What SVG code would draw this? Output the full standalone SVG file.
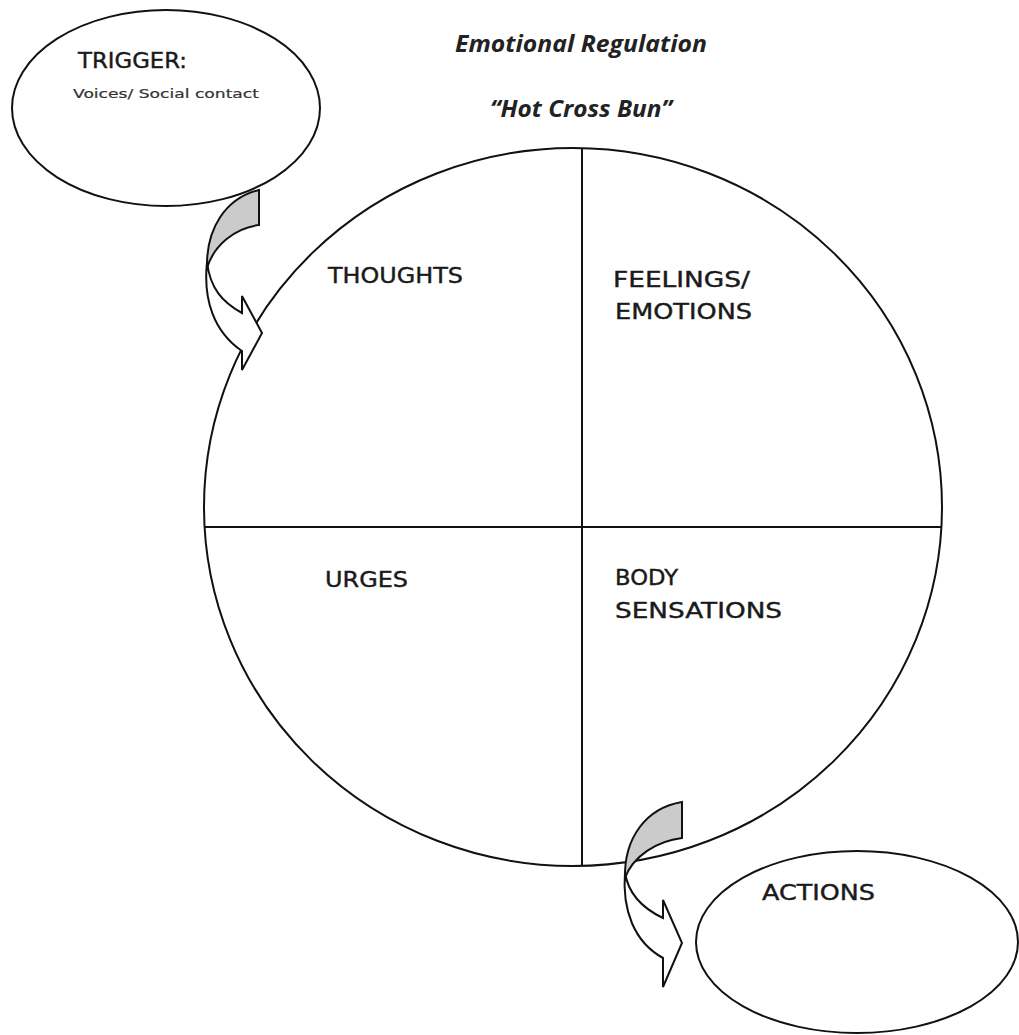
<svg xmlns="http://www.w3.org/2000/svg" width="1019" height="1035" viewBox="0 0 1019 1035">
<style>
.ln{fill:none;stroke:#111;stroke-width:2}
.sh{fill:#fff;stroke:#111;stroke-width:2}
.grey{fill:#cbcbcb;stroke:#111;stroke-width:2;stroke-linejoin:miter}
.wh{fill:#fff;stroke:#111;stroke-width:2;stroke-linejoin:miter}
.lbl{font-family:"DejaVu Sans","Liberation Sans",sans-serif;font-size:21px;fill:#1a1a1a;stroke:#1a1a1a;stroke-width:0.4}
.small{font-family:"DejaVu Sans","Liberation Sans",sans-serif;font-size:13px;fill:#333;stroke:#333;stroke-width:0.2}
.title{font-family:"Open Sans","Liberation Sans",sans-serif;font-size:23px;font-weight:bold;font-style:italic;fill:#222}
</style>
<rect width="1019" height="1035" fill="#fff"/>
<g id="title">
<text class="title" x="455" y="52" textLength="252" lengthAdjust="spacingAndGlyphs">Emotional Regulation</text>
<text class="title" x="490" y="117" textLength="182" lengthAdjust="spacingAndGlyphs">“Hot Cross Bun”</text>
</g>
<g id="trigger">
<ellipse class="sh" cx="166" cy="108" rx="154" ry="98"/>
<text class="lbl" x="78" y="68" textLength="109" lengthAdjust="spacingAndGlyphs">TRIGGER:</text>
<text class="small" x="73" y="98" textLength="186" lengthAdjust="spacingAndGlyphs">Voices/ Social contact</text>
</g>
<g id="bun">
<ellipse class="sh" cx="573" cy="507" rx="369" ry="359"/>
<line class="ln" x1="204" y1="527" x2="942" y2="527"/>
<line class="ln" x1="582" y1="148" x2="582" y2="866"/>
</g>
<g id="thoughts"><text class="lbl" x="328" y="283" textLength="135" lengthAdjust="spacingAndGlyphs">THOUGHTS</text></g>
<g id="feelings">
<text class="lbl" x="613" y="287" textLength="137" lengthAdjust="spacingAndGlyphs">FEELINGS/</text>
<text class="lbl" x="615" y="319" textLength="137" lengthAdjust="spacingAndGlyphs">EMOTIONS</text>
</g>
<g id="urges"><text class="lbl" x="325" y="587" textLength="83" lengthAdjust="spacingAndGlyphs">URGES</text></g>
<g id="body">
<text class="lbl" x="615" y="585" textLength="63" lengthAdjust="spacingAndGlyphs">BODY</text>
<text class="lbl" x="615" y="618" textLength="167" lengthAdjust="spacingAndGlyphs">SENSATIONS</text>
</g>
<g id="actions">
<ellipse class="sh" cx="857" cy="942" rx="161" ry="91"/>
<text class="lbl" x="762" y="900" textLength="113" lengthAdjust="spacingAndGlyphs">ACTIONS</text>
</g>
<g id="connectors">
<g id="arrow-trigger">
<path class="wh" d="M207,262 C203,300 214,332 242,351 L242,370 L262,333 L242,296 L242,313 C222,302 210,288 207,262 Z"/>
<path class="grey" d="M259,190 L259,225 C235,228 214,245 207,268 C206,228 226,198 259,190 Z"/>
</g>
<g id="arrow-actions">
<path class="wh" d="M625,872 C622,910 634,942 663,958 L663,987 L682,943 L663,900 L663,918 C642,908 628,894 625,872 Z"/>
<path class="grey" d="M682,802 L682,838 C657,841 633,856 625,878 C624,838 646,808 682,802 Z"/>
</g>
</g>
</svg>
